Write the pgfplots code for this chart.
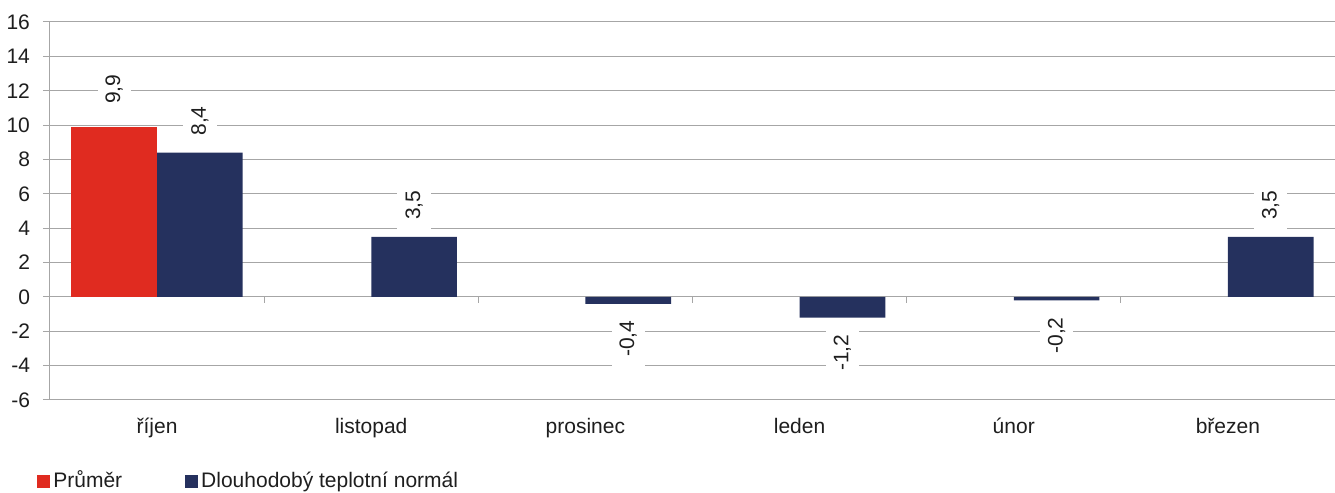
\documentclass[border=0pt]{standalone}
\usepackage{pgfplots}
\pgfplotsset{compat=1.18}
\usepackage{pgfplotstable}
\usepackage{fontspec}
\setmainfont{Liberation Sans}
\definecolor{cred}{RGB}{224,43,32}
\definecolor{cnavy}{RGB}{37,49,94}
\definecolor{cgrid}{RGB}{166,166,166}
\definecolor{ctext}{RGB}{30,30,30}
% x = category position (0.5, 1.5, ...) shifted by -0.2 (first series) or +0.2 (second series)
\pgfplotstableread{
x y label
0.3 9.9 {9,9}
}\tred
\pgfplotstableread{
x y label
0.7 8.4 {8,4}
1.7 3.5 {3,5}
5.7 3.5 {3,5}
}\tnavypos
\pgfplotstableread{
x y label
2.7 -0.4 {-0,4}
3.7 -1.2 {-1,2}
4.7 -0.2 {-0,2}
}\tnavyneg
\begin{document}
\begin{tikzpicture}
\path[use as bounding box] (0,0) rectangle (667.5pt,246.5pt);
\begin{axis}[
  at={(25pt,46.5pt)}, anchor=south west,
  scale only axis, width=642.5pt, height=189pt,
  xmin=0, xmax=6, ymin=-6, ymax=16,
  ytick={-6,-4,...,16},
  xtick={0.5,1.5,...,5.5},
  xticklabels={říjen,listopad,prosinec,leden,únor,březen},
  xtick style={draw=none},
  ymajorgrids, grid style={cgrid, line width=0.5pt},
  axis lines*=left, axis line style={cgrid, line width=0.5pt, -},
  ytick style={cgrid, line width=0.5pt},
  tick align=outside, major tick length=3.5pt,
  tick label style={font=\fontsize{10.5}{12.5}\selectfont, text=ctext},
  xticklabel style={yshift=-2pt},
  yticklabel style={xshift=-3pt},
  /pgf/number format/assume math mode=true,
  legend columns=2,
  legend style={draw=none, fill=none, at={(axis description cs:0,-0.2143)}, anchor=west, xshift=-6.5pt,
    inner sep=0pt, font=\fontsize{10.5}{12.5}\selectfont, text=ctext,
    nodes={inner sep=0pt},
    /tikz/every odd column/.style={column sep=1.5pt},
    /tikz/every even column/.style={column sep=31.5pt}},
  lbl/.style={nodes near coords, point meta=explicit symbolic,
    every node near coord/.append style={font=\fontsize{10.5}{12.5}\selectfont, text=ctext, fill=white,
      inner xsep=5pt, inner ysep=4pt, rotate=90}},
  sq/.style={legend image code/.code={\fill[##1] (0pt,-3.25pt) rectangle (6.5pt,3.25pt);}},
]
\addplot[ybar, bar width=0.4, bar shift=0, fill=cred, draw=none, sq, lbl,
  every node near coord/.append style={anchor=west, outer xsep=6.5pt}]
  table[x=x, y=y, meta=label] {\tred};
\addlegendentry{Průměr}
\addplot[ybar, bar width=0.4, bar shift=0, fill=cnavy, draw=none, sq, lbl,
  every node near coord/.append style={anchor=west, outer xsep=3.5pt}]
  table[x=x, y=y, meta=label] {\tnavypos};
\addlegendentry{Dlouhodobý teplotní normál}
\addplot[ybar, bar width=0.4, bar shift=0, fill=cnavy, draw=none, forget plot, lbl,
  every node near coord/.append style={anchor=east, outer xsep=3.5pt}]
  table[x=x, y=y, meta=label] {\tnavyneg};
\pgfplotsinvokeforeach{1,...,5}{\draw[cgrid, line width=0.5pt] (axis cs:#1,0) -- ([yshift=-3pt]axis cs:#1,0);}
\end{axis}
\end{tikzpicture}
\end{document}
